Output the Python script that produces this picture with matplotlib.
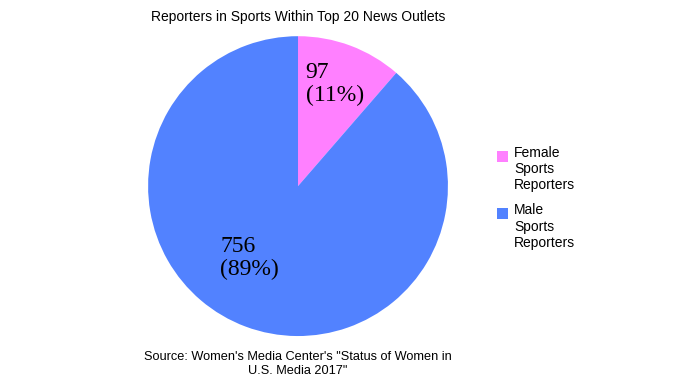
import matplotlib.pyplot as plt
from matplotlib.patches import Rectangle
from matplotlib.legend_handler import HandlerPatch

labels = ['Female\nSports\nReporters', 'Male\nSports\nReporters']
counts = [97, 756]
colors = ['#FF80FF', '#5282FF']

fig = plt.figure(figsize=(6.78, 3.81), dpi=100)
ax = fig.add_axes([0.2183, 0.118, 0.4425, 0.787])

total = sum(counts)
wedges, _ = ax.pie(counts, colors=colors, startangle=90, counterclock=False,
                   wedgeprops={'linewidth': 0})
ax.set_aspect('equal')
ax.set_xlim(-1, 1)
ax.set_ylim(-1, 1)

# slice labels
pos = [(0.05, 0.68), (-0.52, -0.48)]
for (x, y), c in zip(pos, counts):
    ax.text(x, y, '%d\n(%d%%)' % (c, round(c / total * 100)), ha='left', va='center',
            fontsize=17, family='Liberation Serif', linespacing=1.1)

fig.text(0.4395, 0.955, 'Reporters in Sports Within Top 20 News Outlets', ha='center',
         va='center', fontsize=10, family='Liberation Sans')
fig.text(0.4395, 0.045, 'Source: Women\'s Media Center\'s "Status of Women in\nU.S. Media 2017"',
         ha='center', va='center', fontsize=9.2, family='Liberation Sans', linespacing=1.15)


# square handle sitting at the top of a tall handle box
def top_square(legend, orig_handle, xdescent, ydescent, width, height, fontsize):
    return Rectangle((-xdescent, -ydescent + height - width + 2.5), width, width)


fig.legend(wedges, labels, loc='upper left', bbox_to_anchor=(0.714, 0.65), frameon=False,
           prop={'family': 'Liberation Sans', 'size': 10}, handlelength=0.8, handleheight=3.3,
           handletextpad=0.45, labelspacing=0.8,
           handler_map={w: HandlerPatch(patch_func=top_square) for w in wedges})

plt.savefig('out.png')
